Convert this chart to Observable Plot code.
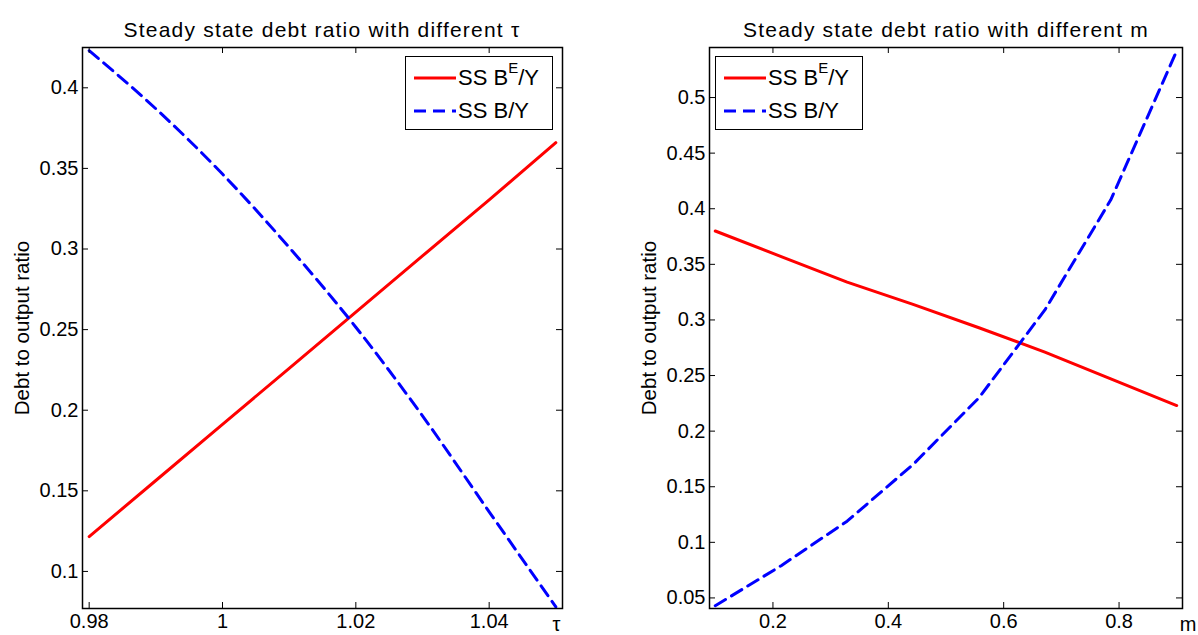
<!DOCTYPE html>
<html><head><meta charset="utf-8">
<script src="https://cdn.jsdelivr.net/npm/d3@7"></script>
<script src="https://cdn.jsdelivr.net/npm/@observablehq/plot@0.6"></script>
<style>
body{margin:0;background:#fff;font-family:Arial,"Liberation Sans",sans-serif;}
#wrap{position:relative;width:1198px;height:635px;overflow:hidden;background:#fff}
.panel{position:absolute;top:0}
.title{position:absolute;top:19px;font-size:21px;letter-spacing:1.2px;transform:translateX(-50%);white-space:nowrap;color:#000;line-height:1}
.legend{position:absolute;border:1.5px solid #000;background:#fff;box-sizing:border-box}
.row{position:absolute;left:0;height:30px;font-size:22px;line-height:30px;white-space:nowrap}
.row svg{position:absolute;left:8px;top:0}
.row span.t{position:absolute;left:52px;top:0}
sup{font-size:15px;position:relative;top:-3px;vertical-align:top;line-height:1}
</style>
</head><body>
<div id="wrap"></div>
<script>
// ---- data: left panel (tau) ----
const tau = [0.98, 0.99, 1.00, 1.01, 1.02, 1.03, 1.04, 1.05];
const tauBE = [0.1216, 0.1564, 0.1912, 0.2260, 0.2609, 0.2957, 0.3305, 0.3660];
const tauB = [0.4230, 0.3870, 0.3465, 0.3010, 0.2515, 0.1965, 0.1370, 0.0780];
const tauXTicks = [0.98, 1, 1.02, 1.04];
const tauYTicks = [0.1, 0.15, 0.2, 0.25, 0.3, 0.35, 0.4];
// ---- data: right panel (m) ----
const m = [0.1, 0.2143, 0.3286, 0.4429, 0.5571, 0.6714, 0.7857, 0.9];
const mBE = [0.380, 0.357, 0.334, 0.314, 0.293, 0.271, 0.247, 0.223];
const mB = [0.043, 0.079, 0.119, 0.170, 0.230, 0.309, 0.408, 0.542];
const mXTicks = [0.2, 0.4, 0.6, 0.8];
const mYTicks = [0.05, 0.1, 0.15, 0.2, 0.25, 0.3, 0.35, 0.4, 0.45, 0.5];

const titles = ["Steady state debt ratio with different \u03C4", "Steady state debt ratio with different m"];
const seriesNames = ["SS B<sup>E</sup>/Y", "SS B/Y"];
const yLabel = "Debt to output ratio";

const wrap = document.getElementById("wrap");
const H = 635, MT = 47, MB = 27;

function panel(opts) {
  const {left, width, ml, mr, xs, s1, s2, xdom, ydom, xt, yt, xname, xnameDx, curve2} = opts;
  const innerW = width - ml - mr, innerH = H - MT - MB;
  const d1 = xs.map((x, i) => ({x, y: s1[i]}));
  const d2 = xs.map((x, i) => ({x, y: s2[i]}));
  const p = Plot.plot({
    width, height: H,
    marginLeft: ml, marginRight: mr, marginTop: MT, marginBottom: MB,
    style: {fontFamily: "Arial, 'Liberation Sans', sans-serif", fontSize: "20px", color: "#000", background: "#fff"},
    x: {domain: xdom, ticks: xt},
    y: {domain: ydom, ticks: yt},
    marks: [
      Plot.line(d1, {x: "x", y: "y", stroke: "#ff0000", strokeWidth: 3}),
      Plot.line(d2, {x: "x", y: "y", stroke: "#0000ff", strokeWidth: 3, strokeDasharray: "12,7", curve: curve2}),
      Plot.ruleX(xt, {x: d => d, insetTop: innerH - 6, stroke: "#000", strokeWidth: 1}),
      Plot.ruleX(xt, {x: d => d, insetBottom: innerH - 6, stroke: "#000", strokeWidth: 1}),
      Plot.ruleY(yt, {y: d => d, insetRight: innerW - 6, stroke: "#000", strokeWidth: 1}),
      Plot.ruleY(yt, {y: d => d, insetLeft: innerW - 6, stroke: "#000", strokeWidth: 1}),
      Plot.axisX(xt, {tickSize: 0, tickPadding: 5, tickFormat: d => String(d), label: null, fontSize: 20}),
      Plot.axisY(yt, {tickSize: 0, tickPadding: 4, tickFormat: d => String(d), label: null, fontSize: 20}),
      Plot.frame({stroke: "#000", strokeWidth: 1.5}),
      Plot.text([yLabel], {frameAnchor: "left", textAnchor: "middle", dx: -60, rotate: -90, fontSize: 20.5, fill: "#000"}),
      Plot.text([xname], {frameAnchor: "bottom-right", dx: xnameDx, dy: 22, fontSize: 20, fill: "#000"})
    ]
  });
  p.classList.add("panel");
  p.style.left = left + "px";
  wrap.appendChild(p);
}

panel({left: 0, width: 600, ml: 82, mr: 38, xs: tau, s1: tauBE, s2: tauB,
  xdom: [0.979, 1.051], ydom: [0.077, 0.425], xt: tauXTicks, yt: tauYTicks, xname: "\u03C4", xnameDx: -2, curve2: "monotone-x"});
panel({left: 600, width: 598, ml: 109, mr: 16, xs: m, s1: mBE, s2: mB,
  xdom: [0.09, 0.91], ydom: [0.0405, 0.545], xt: mXTicks, yt: mYTicks, xname: "m", xnameDx: 14, curve2: "linear"});

function addTitle(text, cx) {
  const d = document.createElement("div");
  d.className = "title"; d.style.left = cx + "px"; d.textContent = text;
  wrap.appendChild(d);
}
addTitle(titles[0], 322);
addTitle(titles[1], 946);

function addLegend(x, y, w, h) {
  const L = document.createElement("div");
  L.className = "legend";
  Object.assign(L.style, {left: x + "px", top: y + "px", width: w + "px", height: h + "px"});
  const styles = [{stroke: "#ff0000", dash: ""}, {stroke: "#0000ff", dash: "12,7"}];
  seriesNames.forEach((name, i) => {
    const r = document.createElement("div");
    r.className = "row"; r.style.top = (6 + i * 33) + "px";
    r.innerHTML = `<svg width="42" height="30"><line x1="0" x2="42" y1="15" y2="15" stroke="${styles[i].stroke}" stroke-width="3" stroke-dasharray="${styles[i].dash}"/></svg><span class="t">${name}</span>`;
    L.appendChild(r);
  });
  wrap.appendChild(L);
}
addLegend(405, 56, 148, 74);
addLegend(715, 56, 148, 74);
</script>
</body></html>
